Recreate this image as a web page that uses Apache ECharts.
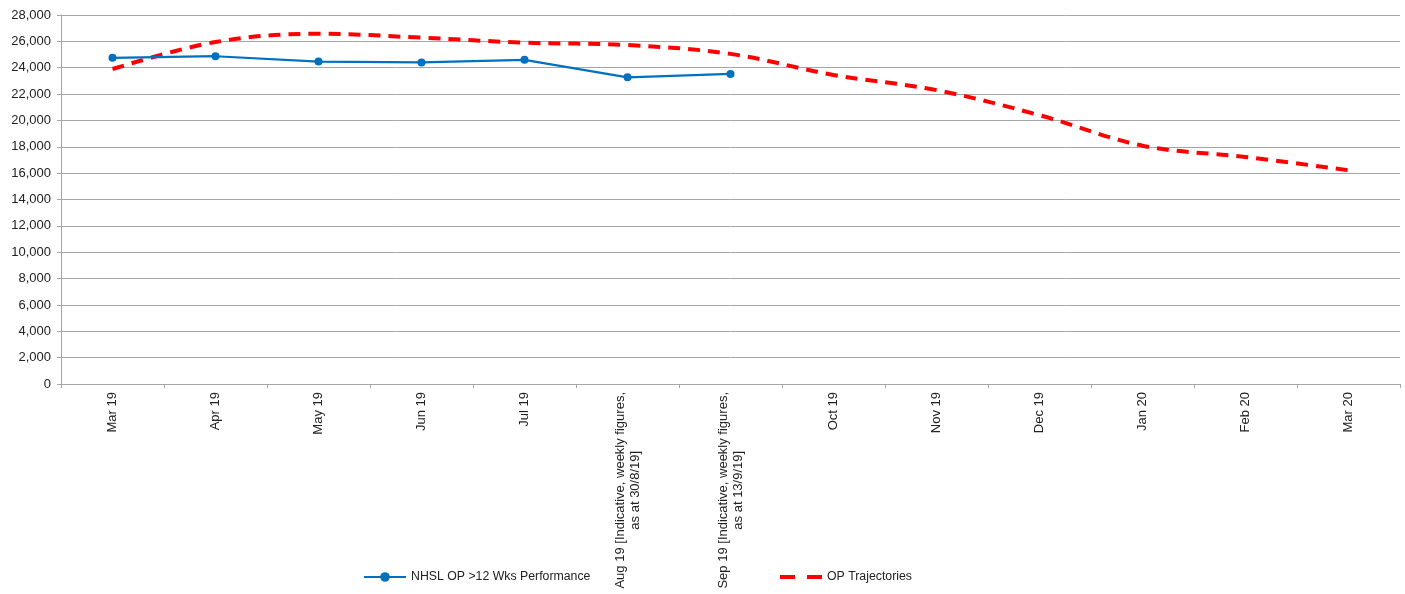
<!DOCTYPE html>
<html>
<head>
<meta charset="utf-8">
<script src="https://cdn.jsdelivr.net/npm/echarts@6/dist/echarts.min.js"></script>
<style>html,body{margin:0;padding:0;background:#fff}#c{width:1405px;height:594px}</style>
</head>
<body>
<div id="c"></div>
<script>
const categories = ['Mar 19','Apr 19','May 19','Jun 19','Jul 19',
  'Aug 19 [Indicative, weekly figures,\nas at 30/8/19]',
  'Sep 19 [Indicative, weekly figures,\nas at 13/9/19]',
  'Oct 19','Nov 19','Dec 19','Jan 20','Feb 20','Mar 20'];
const performance = [24750, 24870, 24470, 24400, 24600, 23270, 23530, null, null, null, null, null, null];
const trajectories = [23900, 25950, 26580, 26280, 25900, 25720, 25050, 23450, 22300, 20400, 18080, 17230, 16220];
const yTicks = {min: 0, max: 28000, interval: 2000};

const chart = echarts.init(document.getElementById('c'), null, {renderer: 'canvas'});
const font = 'Liberation Sans, Arial, sans-serif';
const grey = '#a6a6a6';
chart.setOption({
  animation: false,
  textStyle: {fontFamily: font},
  grid: {left: 61, right: 5, top: 15, bottom: 210, containLabel: false},
  legend: [
    {data: ['NHSL OP >12 Wks Performance'], left: 358, top: 566, itemWidth: 42, itemHeight: 12,
     textStyle: {fontFamily: font, fontSize: 12.3, color: '#222'}},
    {data: [{name: 'OP Trajectories', icon: 'path://M0,0h15v4h-15z M27,0h15v4h-15z'}],
     left: 775, top: 566, itemWidth: 42, itemHeight: 4,
     itemStyle: {color: '#ff0000'},
     textStyle: {fontFamily: font, fontSize: 12.3, color: '#222'}}
  ],
  xAxis: {
    type: 'category', data: categories, boundaryGap: true,
    axisLine: {lineStyle: {color: grey, width: 1}},
    axisTick: {show: true, length: 4, lineStyle: {color: grey}},
    axisLabel: {
      interval: 0, rotate: 90, margin: 8, color: '#222', fontSize: 13, fontFamily: font,
      formatter: v => v.split('\n').map(s => '{a|' + s + '}').join('\n'),
      rich: {a: {align: 'center', fontSize: 13, lineHeight: 15, fontFamily: font, color: '#222'}}
    },
    splitLine: {show: false}
  },
  yAxis: {
    type: 'value', min: yTicks.min, max: yTicks.max, interval: yTicks.interval,
    axisLine: {show: true, lineStyle: {color: grey}},
    axisTick: {show: true, length: 4, lineStyle: {color: grey}},
    axisLabel: {margin: 10, color: '#222', fontSize: 13, fontFamily: font,
      formatter: v => v.toLocaleString('en-US')},
    splitLine: {show: true, lineStyle: {color: grey, width: 1}}
  },
  series: [
    {name: 'NHSL OP >12 Wks Performance', type: 'line', data: performance,
     color: '#0070c0', symbol: 'circle', symbolSize: 8, showSymbol: true,
     lineStyle: {color: '#0070c0', width: 2.25},
     itemStyle: {color: '#0070c0'}, connectNulls: false, z: 3},
    {name: 'OP Trajectories', type: 'line', data: trajectories, smooth: 0.35,
     color: '#ff0000', symbol: 'none', showSymbol: false,
     lineStyle: {color: '#ff0000', width: 4, type: [12, 8], cap: 'butt'},
     z: 2}
  ]
});
</script>
</body>
</html>
